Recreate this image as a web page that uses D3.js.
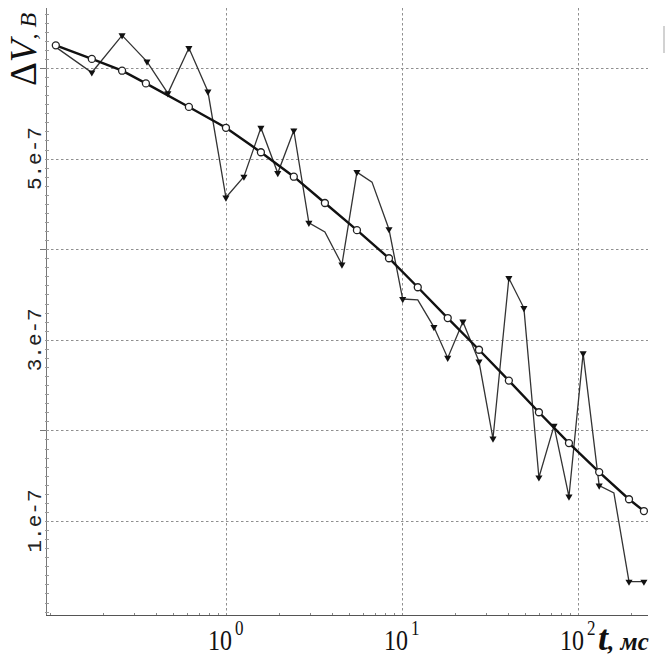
<!DOCTYPE html>
<html><head><meta charset="utf-8">
<script src="https://cdn.jsdelivr.net/npm/d3@7"></script>
<style>html,body{margin:0;padding:0;background:#fff;} svg{display:block;}</style>
</head><body>
<svg id="c" width="665" height="657"></svg>
<script>
// ---- data (voltage values in units of 1e-7 V, time in ms) ----
const tNoisy = [0.108,0.173,0.257,0.356,0.468,0.616,0.79,1.0,1.265,1.58,1.97,2.43,2.96,3.65,4.56,5.55,6.76,8.44,10.1,12.3,15.2,18.2,22.2,27.4,32.9,40.5,49.3,60.0,73.1,88.9,107,132,160,195,237];
const vNoisy = [6.23,5.95,6.36,6.07,5.72,6.22,5.74,4.57,4.80,5.34,4.84,5.31,4.29,4.19,3.83,4.85,4.74,4.22,3.45,3.44,3.14,2.80,3.20,2.76,1.91,3.68,3.35,1.48,2.05,1.27,2.85,1.39,1.31,0.33,0.33];
const noisyUnmarked = [0,13,16,19,32];
const tSmooth = [0.108,0.173,0.257,0.351,0.616,1.0,1.58,2.43,3.65,5.55,8.44,12.3,18.2,27.4,40.5,60.0,88.9,132,195,237];
const vSmooth = [6.25,6.10,5.97,5.83,5.57,5.34,5.07,4.80,4.51,4.21,3.90,3.58,3.24,2.89,2.55,2.20,1.86,1.54,1.24,1.11];
const xTickValues = [1,10,100];
const xTickExponents = ["0","1","2"];
const yGridValues = [1,2,3,4,5,6];
const yTickLabels = ["1.e-7","","3.e-7","","5.e-7",""];
const xMinor = [0.1,0.2,0.3,0.4,0.5,0.6,0.7,0.8,0.9,2,3,4,5,6,7,8,9,20,30,40,50,60,70,80,90,200];

const svg = d3.select("#c");
svg.append("rect").attr("width",665).attr("height",657).attr("fill","#fff");
const x = d3.scaleLog().domain([0.095,250]).range([46,648]);
const y = d3.scaleLinear().domain([-0.0375,6.662]).range([615,8]);
const [x0,x1] = x.range(), [y0,y1] = y.range();

// grid
const grid = svg.append("g").attr("stroke","#8f8f8f").attr("stroke-width",1).attr("stroke-dasharray","2.5,2.5");
grid.selectAll("line.h").data(yGridValues).join("line").attr("class","h")
  .attr("x1",x0).attr("x2",x1).attr("y1",d=>Math.round(y(d))+0.5).attr("y2",d=>Math.round(y(d))+0.5);
grid.selectAll("line.v").data(xTickValues).join("line").attr("class","v")
  .attr("x1",d=>Math.round(x(d))+0.5).attr("x2",d=>Math.round(x(d))+0.5).attr("y1",y1).attr("y2",y0);

// axes
const ax = svg.append("g").attr("stroke","#777").attr("stroke-width",1);
ax.append("line").attr("x1",x0+0.5).attr("x2",x0+0.5).attr("y1",y1).attr("y2",y0);
ax.append("line").attr("x1",x0).attr("x2",x1).attr("y1",y0+0.5).attr("y2",y0+0.5).attr("stroke","#555");
const yMinor = d3.range(0,67).map(i=>i/10);
ax.selectAll("line.ym").data(yMinor).join("line").attr("class","ym")
  .attr("x1",x0-1).attr("x2",x0+3).attr("y1",d=>Math.round(y(d))+0.5).attr("y2",d=>Math.round(y(d))+0.5).attr("stroke","#999");
ax.selectAll("line.yM").data(yGridValues.filter((d,i)=>!yTickLabels[i])).join("line").attr("class","yM")
  .attr("x1",x0-6).attr("x2",x0).attr("y1",d=>Math.round(y(d))+0.5).attr("y2",d=>Math.round(y(d))+0.5);
ax.selectAll("line.xm").data(xMinor).join("line").attr("class","xm")
  .attr("x1",d=>Math.round(x(d))+0.5).attr("x2",d=>Math.round(x(d))+0.5).attr("y1",y0-2).attr("y2",y0).attr("stroke","#888");

// y tick labels
svg.selectAll("text.yt").data(yGridValues.map((d,i)=>({v:d,l:yTickLabels[i]})).filter(d=>d.l)).join("text")
  .attr("class","yt")
  .attr("transform",d=>`translate(41,${y(d.v)}) rotate(-90)`)
  .attr("text-anchor","middle").attr("font-family","Liberation Mono").attr("font-size",21).attr("fill","#222")
  .text(d=>d.l);

// x tick labels
const xt = svg.selectAll("g.xt").data(xTickValues.map((d,i)=>({v:d,e:xTickExponents[i]}))).join("g")
  .attr("class","xt").attr("transform",d=>`translate(${x(d.v)},650) scale(1,1.25)`);
xt.append("text").attr("x",6).attr("text-anchor","end").attr("font-family","Liberation Serif").attr("font-size",24).attr("fill","#111").text("10");
xt.append("text").attr("x",9).attr("y",-12).attr("font-family","Liberation Serif").attr("font-size",17).attr("fill","#111").text(d=>d.e);

// x axis title
const xlt = svg.append("text").attr("x",598).attr("y",650).attr("font-family","Liberation Serif").attr("font-weight","bold").attr("font-style","italic").attr("fill","#111");
xlt.append("tspan").attr("font-size",36).text("t");
xlt.append("tspan").attr("font-size",25).text(", мс");

// y axis title
const ylt = svg.append("text").attr("transform","translate(36,86) rotate(-90)")
  .attr("font-family","Liberation Serif").attr("fill","#111");
ylt.append("tspan").attr("font-size",37).text("Δ");
ylt.append("tspan").attr("font-size",37).attr("font-style","italic").text("V");
ylt.append("tspan").attr("font-size",24).attr("font-style","italic").text(", В");

// cut-off fragment at right edge
svg.append("rect").attr("x",663).attr("y",26).attr("width",2).attr("height",27).attr("fill","#d2d2d2");

// series
const noisy = tNoisy.map((t,i)=>({t,v:vNoisy[i],i}));
const smooth = tSmooth.map((t,i)=>({t,v:vSmooth[i]}));
const line = d3.line().x(d=>x(d.t)).y(d=>y(d.v));
svg.append("path").datum(noisy).attr("d",line).attr("fill","none").attr("stroke","#333").attr("stroke-width",1.3);
svg.append("path").datum(smooth).attr("d",line).attr("fill","none").attr("stroke","#111").attr("stroke-width",2.4);
const tri = d3.symbol().type(d3.symbolTriangle).size(22);
svg.selectAll("path.tri").data(noisy.filter(d=>!noisyUnmarked.includes(d.i))).join("path").attr("class","tri")
  .attr("d",tri).attr("transform",d=>`translate(${x(d.t)},${y(d.v)}) rotate(180)`).attr("fill","#111");
svg.selectAll("circle.c").data(smooth).join("circle").attr("class","c")
  .attr("cx",d=>x(d.t)).attr("cy",d=>y(d.v)).attr("r",3.5).attr("fill","#fff").attr("stroke","#222").attr("stroke-width",1.3);
</script>
</body></html>
